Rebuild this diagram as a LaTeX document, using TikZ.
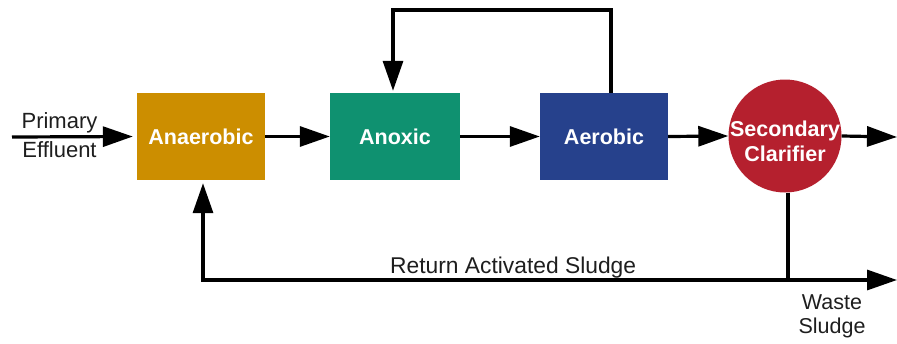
\documentclass[tikz,border=0pt]{standalone}
\usepackage{fontspec}
\setmainfont{Liberation Sans}
\usetikzlibrary{arrows.meta}
\definecolor{anaerobicfill}{HTML}{CC8E00}
\definecolor{anoxicfill}{HTML}{0F9170}
\definecolor{aerobicfill}{HTML}{26418C}
\definecolor{clarifierfill}{HTML}{B5202E}
\definecolor{labeltext}{HTML}{1E1E1E}

\begin{document}
\begin{tikzpicture}[x=1pt,y=-1pt,
  tank/.style={rectangle, minimum width=128pt, minimum height=87pt, inner sep=0pt,
    text=white, font=\bfseries\fontsize{21.5}{25}\selectfont},
  clarifier/.style={circle, minimum size=113pt, inner sep=0pt},
  tanklabel/.style={text=white, align=center, inner sep=0pt,
    font=\bfseries\fontsize{21.5}{25}\selectfont},
  caption/.style={text=labeltext, align=center, inner sep=0pt,
    font=\fontsize{22}{29}\selectfont},
  pipe/.style={line width=3.2pt, line join=miter},
  flow/.style={pipe, -{Triangle[length=30pt,width=20pt]}}]

\useasboundingbox (0,0) rectangle (897,343);

% treatment stages
\node[tank, fill=anaerobicfill] (ana) at (201,136.5) {Anaerobic};
\node[tank, fill=anoxicfill, minimum width=130pt] (anox) at (395,136.5) {Anoxic};
\node[tank, fill=aerobicfill] (aer) at (604,136.5) {Aerobic};
\node[clarifier, fill=clarifierfill] (clar) at (785,136) {};
\node[tanklabel] (clarlabel) at (785,141.5) {Secondary\\Clarifier};

% helper points for the piping
\coordinate (inlet) at (12,137);
\coordinate (outlet) at (897,137);
\coordinate (loopR) at (611,10);
\coordinate (loopL) at (393,10);
\coordinate (drop) at (788,280);
\coordinate (rasL) at (203,280);
\coordinate (wasteEnd) at (897,280);

% main process line
\draw[flow, shorten >=4pt] (inlet) -- (ana.west);
\draw[flow] (ana.east) -- (anox.west);
\draw[flow] (anox.east) -- (aer.west);
\draw[flow] (aer.east) -- (clar.west);
\draw[flow] (clar.east) -- (outlet);

% internal recycle from aerobic to anoxic
\draw[flow, shorten >=2pt] (aer.north -| loopR) -- (loopR) -- (loopL) -- (anox.north -| loopL);

% return activated sludge and waste sludge
\draw[pipe] (drop |- clar.south) -- (drop);
\draw[flow] (drop) -- (wasteEnd);
\draw[flow, shorten >=3pt] (drop) -- (rasL) -- (rasL |- ana.south);

% labels
\node[caption] (influent) at (59.5,135) {Primary\\Effluent};
\node[caption, anchor=base west, font=\fontsize{22.8}{29}\selectfont] (raslabel) at (390,273) {Return Activated Sludge};
\node[caption, align=center, font=\fontsize{21.5}{24}\selectfont] (wastelabel) at (832,316) {Waste\\Sludge};
\end{tikzpicture}
\end{document}
